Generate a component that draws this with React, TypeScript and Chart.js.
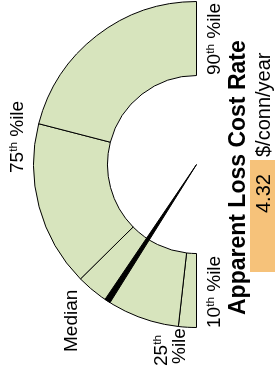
import React, { useEffect, useRef } from "react";
import { Chart, registerables } from "chart.js";

Chart.register(...registerables);

// Gauge bands (10th→25th, 25th→Median, Median→75th, 75th→90th), relative widths
const bandLabels = ["10th–25th", "25th–Median", "Median–75th", "75th–90th"];
const bandSizes = [6.4, 39.0, 59.1, 75.5];
// Needle position on the same scale, and its wedge width
const needleAt = 33.1;
const needleWidth = 2.1;
// Texts
const titleText = "Apparent Loss Cost Rate";
const unitText = "$/conn/year";
const valueText = "4.32";
const percentileLabels = ["10th %ile", "25th %ile", "Median", "75th %ile", "90th %ile"];

const FONT = "'Liberation Sans', Arial, Helvetica, sans-serif";
const GREEN = "#D7E4BD";
const ORANGE = "#F6C27A";

function Label({ text }: { text: string }) {
  const m = text.match(/^(\d+)(th)(.*)$/);
  if (!m) return <>{text}</>;
  return (
    <>
      {m[1]}
      <span style={{ fontSize: "0.62em", position: "relative", top: "-0.5em" }}>{m[2]}</span>
      {m[3]}
    </>
  );
}

export default function App() {
  const gaugeRef = useRef<HTMLCanvasElement | null>(null);
  const needleRef = useRef<HTMLCanvasElement | null>(null);

  useEffect(() => {
    const total = bandSizes.reduce((a, b) => a + b, 0);
    const common: any = {
      responsive: false,
      animation: false,
      events: [],
      rotation: -90,
      circumference: 180,
      layout: { padding: 0 },
      plugins: { legend: { display: false }, tooltip: { enabled: false } },
    };
    const gauge = new Chart(gaugeRef.current!, {
      type: "doughnut",
      data: {
        labels: bandLabels,
        datasets: [
          {
            data: bandSizes,
            backgroundColor: GREEN,
            borderColor: "#000",
            borderWidth: 1,
          },
        ],
      },
      options: { ...common, cutout: "54.6%" },
    });
    const needle = new Chart(needleRef.current!, {
      type: "pie",
      data: {
        labels: ["", "needle", ""],
        datasets: [
          {
            data: [needleAt - needleWidth / 2, needleWidth, total - needleAt - needleWidth / 2],
            backgroundColor: ["rgba(0,0,0,0)", "#000", "rgba(0,0,0,0)"],
            borderColor: ["rgba(0,0,0,0)", "#000", "rgba(0,0,0,0)"],
            borderWidth: 1,
          },
        ],
      },
      options: { ...common },
    });
    return () => {
      gauge.destroy();
      needle.destroy();
    };
  }, []);

  const canvasStyle: React.CSSProperties = {
    position: "absolute",
    left: 44,
    top: 33,
    width: 327,
    height: 164,
  };
  const txt = (left: number, top: number, size: number, extra: React.CSSProperties = {}): React.CSSProperties => ({
    position: "absolute",
    left,
    top,
    fontSize: size,
    lineHeight: `${size}px`,
    whiteSpace: "nowrap",
    fontFamily: FONT,
    color: "#000",
    ...extra,
  });

  return (
    <div
      style={{
        position: "absolute",
        left: 0,
        top: 0,
        width: 372,
        height: 275,
        overflow: "hidden",
        background: "#fff",
        transformOrigin: "0 0",
        transform: "translateY(372px) rotate(-90deg)",
      }}
    >
      <canvas ref={gaugeRef} width={327} height={164} style={canvasStyle} />
      <canvas ref={needleRef} width={327} height={164} style={canvasStyle} />

      {/* percentile labels */}
      <div style={txt(44, 204, 19)}><Label text={percentileLabels[0]} /></div>
      <div style={txt(6, 151, 19)}>25<span style={{ fontSize: "0.62em", position: "relative", top: "-0.5em" }}>th</span></div>
      <div style={txt(8, 169, 19)}>%ile</div>
      <div style={txt(20, 61, 19)}>{percentileLabels[2]}</div>
      <div style={txt(199, 7, 19)}><Label text={percentileLabels[3]} /></div>
      <div style={txt(297, 204, 19)}><Label text={percentileLabels[4]} /></div>

      {/* value box */}
      <div style={{ position: "absolute", left: 100, top: 250, width: 112, height: 25, background: ORANGE }} />
      <div style={txt(159, 253, 20)}>{valueText}</div>
      <div style={txt(215, 253, 20)}>{unitText}</div>

      {/* title */}
      <div style={txt(57, 226, 23, { fontWeight: "bold" })}>{titleText}</div>
    </div>
  );
}
